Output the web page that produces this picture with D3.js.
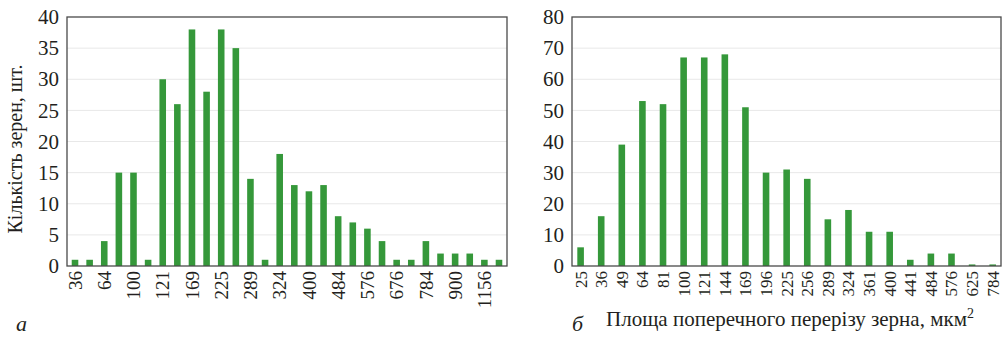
<!DOCTYPE html>
<html><head><meta charset="utf-8">
<script src="https://cdn.jsdelivr.net/npm/d3@7"></script>
<style>
html,body{margin:0;padding:0;background:#fff;}
svg{display:block;}
svg text{font-family:"Liberation Serif","Times New Roman",Times,"DejaVu Serif",serif !important;fill:#231f20;}
</style></head>
<body>
<svg id="c" width="1004" height="342"></svg>
<script>
// Chart а
const labelsA = ["36","","64","","100","","121","","169","","225","","289","","324","","400","","484","","576","","676","","784","","900","","1156",""];
const valuesA = [1,1,4,15,15,1,30,26,38,28,38,35,14,1,18,13,12,13,8,7,6,4,1,1,4,2,2,2,1,1];
const ticksA = [0,5,10,15,20,25,30,35,40];
// Chart б
const labelsB = ["25","36","49","64","81","100","121","144","169","196","225","256","289","324","361","400","441","484","576","625","784"];
const valuesB = [6,16,39,53,52,67,67,68,51,30,31,28,15,18,11,11,2,4,4,0.5,0.5];
const ticksB = [0,10,20,30,40,50,60,70,80];

const yTitle = "Кількість зерен, шт.";
const xTitleB = "Площа поперечного перерізу зерна, мкм";
const barColor = "#35983a";
const serif = '"Liberation Serif","Times New Roman",Times,serif';

const svg = d3.select("#c");

function chart(o){
  const g = svg.append("g");
  const y = d3.scaleLinear().domain([0, o.ymax]).range([o.bottom, o.top]);
  const x = d3.scaleBand().domain(d3.range(o.values.length)).range(o.xr)
     .paddingInner(o.pad).paddingOuter(o.pad/2);
  g.append("g").selectAll("line").data(o.ticks.slice(1,-1)).join("line")
    .attr("x1", o.left).attr("x2", o.right)
    .attr("y1", d=>y(d)).attr("y2", d=>y(d))
    .attr("stroke", "#e8e8e8").attr("stroke-width", 1);
  const clipId = "clip"+o.id;
  g.append("clipPath").attr("id", clipId).append("rect")
    .attr("x", o.left).attr("y", o.top).attr("width", o.right-o.left).attr("height", o.bottom-o.top);
  g.append("g").attr("clip-path", `url(#${clipId})`).selectAll("rect").data(o.values).join("rect")
    .attr("x", (d,i)=>x(i)).attr("width", x.bandwidth())
    .attr("y", d=>y(d)).attr("height", d=>o.bottom - y(d))
    .attr("fill", barColor);
  g.append("rect").attr("x", o.left).attr("y", o.top)
    .attr("width", o.right-o.left).attr("height", o.bottom-o.top)
    .attr("fill","none").attr("stroke","#4a4a4a").attr("stroke-width",1.3);
  const ya = d3.axisLeft(y).tickValues(o.ticks).tickSize(0).tickPadding(8);
  const yg = g.append("g").attr("transform", `translate(${o.left},0)`).call(ya);
  yg.attr("font-family", null);
  yg.select(".domain").remove();
  yg.selectAll("text").style("font-size", o.yfs+"px").style("font-family", serif).attr("fill","#231f20");
  const xa = d3.axisBottom(x).tickSize(0).tickFormat(i=>o.labels[i]);
  const xg = g.append("g").attr("transform", `translate(0,${o.bottom})`).call(xa);
  xg.attr("font-family", null);
  xg.select(".domain").remove();
  xg.selectAll("text")
    .style("font-size", o.xfs+"px").style("font-family", serif).attr("fill","#231f20")
    .attr("transform","rotate(-90)")
    .attr("text-anchor","end")
    .attr("x", -5).attr("y", 0).attr("dy","0.35em");
  return g;
}

chart({id:"a", values:valuesA, labels:labelsA, ticks:ticksA, ymax:40,
  left:67, right:507, top:17, bottom:266, xr:[67.7, 506.3], pad:0.55, yfs:21, xfs:19});
chart({id:"b", values:valuesB, labels:labelsB, ticks:ticksB, ymax:80,
  left:572, right:1001, top:17, bottom:266, xr:[570.3, 1003], pad:0.68, yfs:21, xfs:17});

svg.append("text").attr("transform","translate(22,149) rotate(-90)")
  .attr("text-anchor","middle").style("font-size","20px").style("font-family", serif).text(yTitle);
const t = svg.append("text").attr("x", 790).attr("y", 326).attr("text-anchor","middle")
  .style("font-size","21px").style("font-family", serif);
t.append("tspan").text(xTitleB);
t.append("tspan").style("font-size","14px").attr("dy",-8).text("2");
svg.append("text").attr("x",16).attr("y",331).style("font-size","22px").style("font-style","italic").style("font-family", serif).text("а");
svg.append("text").attr("x",572).attr("y",331).style("font-size","22px").style("font-style","italic").style("font-family", serif).text("б");
</script>
</body></html>
